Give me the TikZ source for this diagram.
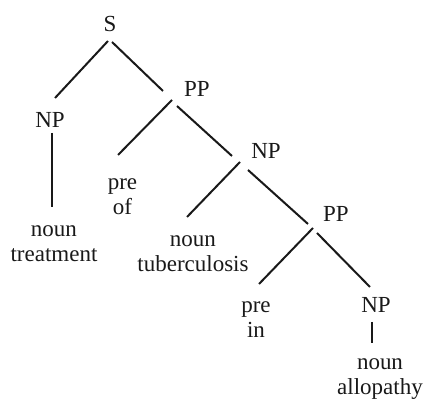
\documentclass[tikz,border=0pt]{standalone}
\usepackage{fontspec}
\setmainfont{Liberation Serif}
\usetikzlibrary{calc}

\begin{document}
\begin{tikzpicture}[
    x=0.5pt, y=-0.5pt,
    cat/.style={
        inner sep=0pt,
        anchor=base,
        align=center,
        font=\fontsize{11.5}{12.5}\selectfont,
        text=black!90
    },
    branch/.style={
        line width=1pt,
        draw=black!90
    }
]

\useasboundingbox (0,0) rectangle (424,399);

\node[cat] (s) at (110, 32) {S};
\node[cat] (np1) at (50, 128) {NP};
\node[cat] (pp1) at (197, 97) {PP};
\node[cat] (noun1) at (54, 262) {noun\\treatment};
\node[cat] (pre1) at (122.5, 215) {pre\\of};
\node[cat] (np2) at (266, 159) {NP};
\node[cat] (noun2) at (193, 272) {noun\\tuberculosis};
\node[cat] (pp2) at (336, 222) {PP};
\node[cat] (pre2) at (256, 338) {pre\\in};
\node[cat] (np3) at (376, 313) {NP};
\node[cat] (noun3) at (380, 395) {noun\\allopathy};

\draw[branch] ($(s.base)+(-2,9)$) -- ($(np1.base)+(5,-30)$);
\draw[branch] ($(s.base)+(2,10)$) -- ($(pp1.base)+(-34,-6)$);
\draw[branch] ($(np1.base)+(2,5)$) -- ($(noun1.base)+(-2,-55)$);
\draw[branch] ($(pp1.base)+(-25,3)$) -- ($(pre1.base)+(-4.5,-60)$);
\draw[branch] ($(pp1.base)+(-20,9)$) -- ($(np2.base)+(-34,-3)$);
\draw[branch] ($(np2.base)+(-26,3)$) -- ($(noun2.base)+(-6,-55)$);
\draw[branch] ($(np2.base)+(-18,11)$) -- ($(pp2.base)+(-28,2)$);
\draw[branch] ($(pp2.base)+(-23,6)$) -- ($(pre2.base)+(3,-54)$);
\draw[branch] ($(pp2.base)+(-19,11)$) -- ($(np3.base)+(-6,-26)$);
\draw[branch] ($(np3.base)+(-4,9)$) -- ($(noun3.base)+(-8,-52)$);

\end{tikzpicture}
\end{document}
